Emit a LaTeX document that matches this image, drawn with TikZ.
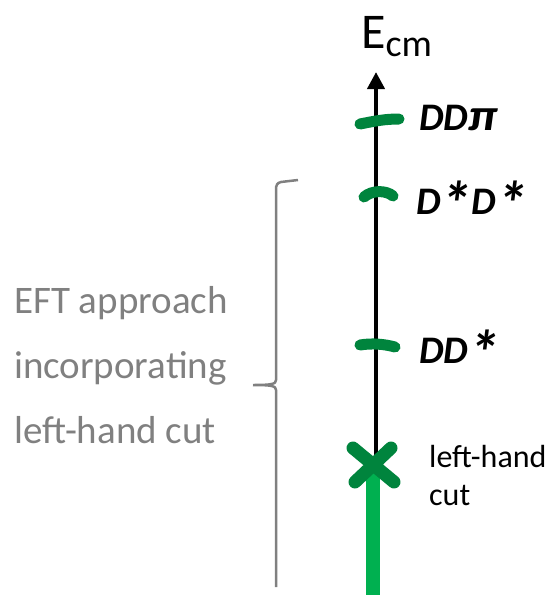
\documentclass[tikz,border=0pt]{standalone}
\usepackage{fontspec}
\setmainfont{Carlito}
\usetikzlibrary{arrows.meta}
\definecolor{tickgreen}{RGB}{0,132,61}
\definecolor{cutgreen}{RGB}{0,176,80}
\definecolor{bracegray}{RGB}{128,128,128}
\newcommand{\bigast}{\raisebox{-11pt}{\scalebox{1.6}{*}}}
\newcommand{\widepi}{\scalebox{1.3}[1.15]{π}}
\tikzset{
  tickmark/.style={draw=tickgreen,line width=11pt,line cap=round},
  level/.style={anchor=base west,inner sep=0pt,font=\fontsize{39}{42}\selectfont\bfseries\itshape},
  sidetext/.style={anchor=base west,inner sep=0pt,text=bracegray,font=\fontsize{39}{45}\selectfont},
  cuttext/.style={anchor=base west,inner sep=0pt,font=\fontsize{32}{38}\selectfont},
}
\begin{document}
\begin{tikzpicture}[x=1pt,y=-1pt]
\useasboundingbox (0,0) rectangle (556,595);
% energy axis
\coordinate (base) at (376,462);
\coordinate (top) at (376,72);
\coordinate (bottom) at (373,595);
\draw[line width=4pt,-{Triangle[length=17pt,width=17pt]}] (base) -- (top);
\node[inner sep=0pt,anchor=base west,font=\fontsize{50}{52}\selectfont] (ecm) at (361,48)
  {E\raisebox{-8pt}{\fontsize{38}{40}\selectfont cm}};
% continuum above the cut
\draw[cutgreen,line width=14pt] (bottom) -- (373,470);
% left-hand cut marker
\coordinate (xc) at (373,464);
\draw[tickgreen,line width=13pt,line cap=round] (353,448) -- (394,482) (391,448) -- (355,482);
% thresholds
\draw[tickmark] (360,124) .. controls (375,121) and (385,119) .. (399,119);
\draw[tickmark] (364,197) .. controls (372,190) and (386,190) .. (393,196);
\draw[tickmark] (360,345) .. controls (372,343) and (384,344) .. (395,347);
\node[level] (ddpi) at (419,130) {DD\widepi};
\node[level] (dsds) at (416,214) {D\bigast D\bigast};
\node[level] (dds) at (419,363) {DD\bigast};
\node[cuttext] (lhc1) at (429,467) {left-hand};
\node[cuttext] (lhc2) at (429,505) {cut};
% brace around the EFT region
\draw[bracegray,line width=2.5pt] (298,180) -- (281,182) .. controls (277,183) and (276,185) .. (276,190)
  -- (276,380) .. controls (276,384) and (272,385) .. (253,385)
  (253,385) .. controls (272,385) and (276,386) .. (276,390) -- (276,587);
\node[sidetext] (l1) at (14,313) {EFT approach};
\node[sidetext] (l2) at (14,378) {incorporating};
\node[sidetext] (l3) at (14,443) {left-hand cut};
\end{tikzpicture}
\end{document}
